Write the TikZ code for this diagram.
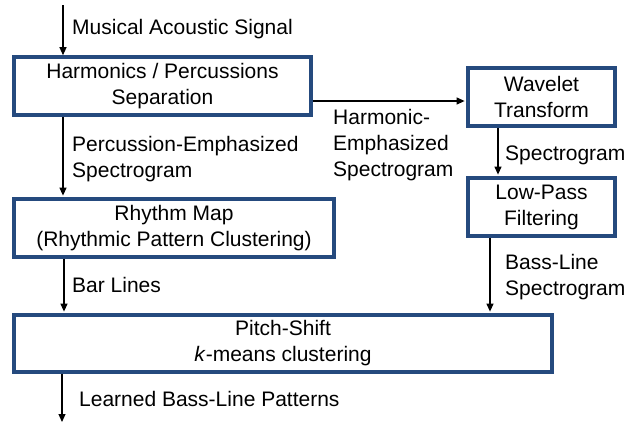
\documentclass[tikz,border=0pt]{standalone}
\usepackage{fontspec}
\setmainfont{Liberation Sans}
\usetikzlibrary{arrows.meta,calc}
\definecolor{boxblue}{RGB}{37,74,126}
\begin{document}
\begin{tikzpicture}[x=1pt,y=1pt,
  every node/.style={font=\fontsize{21}{26}\selectfont, inner sep=0pt},
  blk/.style={draw=boxblue, line width=3.6pt, fill=white, align=center, minimum height=58pt},
  lbl/.style={anchor=west, align=left},
  arr/.style={-{Triangle[length=8pt,width=7pt]}, line width=1.2pt, black, shorten >=1.6pt}]
\useasboundingbox (0,0) rectangle (632,-426);
\node[blk, minimum width=297pt] (hp) at (162.5,-86) {Harmonics / Percussions\\Separation};
\node[blk, minimum width=320pt] (rm) at (174,-228) {Rhythm Map\\(Rhythmic Pattern Clustering)};
\node[blk, minimum width=538pt, minimum height=57pt] (ps) at (283,-343.5) {Pitch-Shift\\\textit{k}-means clustering};
\node[blk, minimum width=147pt] (wt) at (541.5,-97) {Wavelet\\Transform};
\node[blk, minimum width=147pt] (lp) at (541.5,-207) {Low-Pass\\Filtering};
\coordinate (in) at (63,-5);
\coordinate (out) at (62,-422);
\draw[arr, shorten >=0pt] (in) -- (in |- hp.north);
\draw[arr] (hp.south -| 63,0) -- (rm.north -| 63,0);
\draw[arr] (rm.south -| 64,0) -- (ps.north -| 64,0);
\draw[arr, shorten >=0pt] (ps.south -| out) -- (out);
\draw[arr] (hp.east |- 0,-101) -- (wt.west |- 0,-101);
\draw[arr] (wt.south -| 498,0) -- (lp.north -| 498,0);
\draw[arr] (lp.south -| 490,0) -- (ps.north -| 490,0);
\node[lbl] (l1) at (72,-29) {Musical Acoustic Signal};
\node[lbl] (l2) at (72,-159.5) {Percussion-Emphasized\\Spectrogram};
\node[lbl] (l3) at (333,-145) {Harmonic-\\Emphasized\\Spectrogram};
\node[lbl] (l4) at (505,-155) {Spectrogram};
\node[lbl] (l5) at (505,-277) {Bass-Line\\Spectrogram};
\node[lbl] (l6) at (72,-285) {Bar Lines};
\node[lbl] (l7) at (79,-399) {Learned Bass-Line Patterns};
\end{tikzpicture}
\end{document}
